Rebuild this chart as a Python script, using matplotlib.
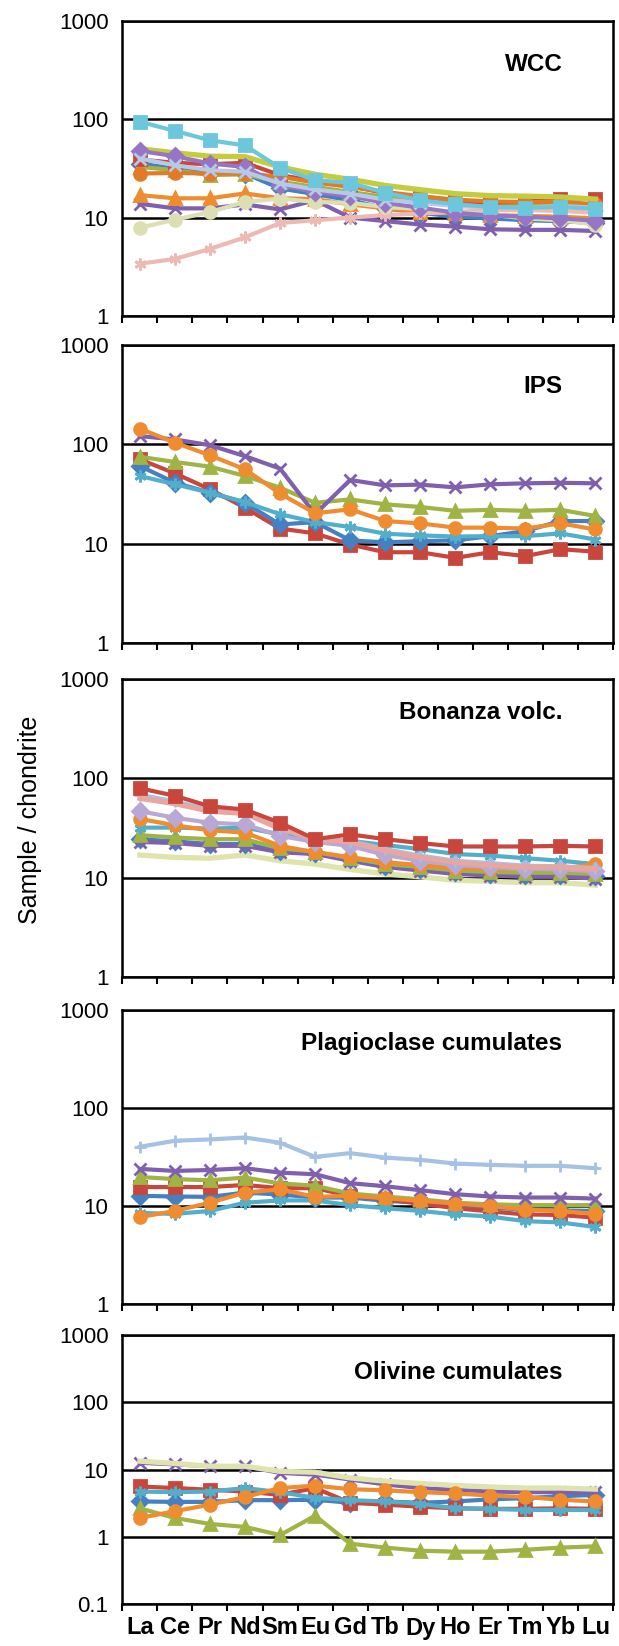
import numpy as np
import matplotlib.pyplot as plt

plt.rcParams['font.family'] = ['Liberation Sans', 'DejaVu Sans']

ree = ['La', 'Ce', 'Pr', 'Nd', 'Sm', 'Eu', 'Gd', 'Tb', 'Dy', 'Ho', 'Er', 'Tm', 'Yb', 'Lu']

# --- WCC ---
wcc_blue = [35.4, 31.5, 29.8, 28, 19.8, 17.3, 15, 12.4, 11.2, 10.2, 9.8, 9.4, 9.2, 8.8]
wcc_green = [32.7, 30.3, 27, 27.5, 23.1, 20.5, 18.2, 16.2, 15, 13.9, 13.3, 13.3, 13.7, 13.7]
wcc_red = [38.9, 36, 34.8, 36, 27, 23.5, 20.8, 17.8, 15.9, 14.6, 14.2, 14.4, 15.6, 15.6]
wcc_dkorange = [28, 28.4, 28, 28, 26, 22.7, 20.5, 18.2, 16.5, 15.2, 14.6, 14.4, 14.4, 13.7]
wcc_purple_x = [13.8, 12.4, 12.4, 13.6, 12.1, 15, 10, 9.2, 8.5, 8.1, 7.6, 7.5, 7.5, 7.3]
wcc_orange_tri = [16.9, 15.7, 15.7, 17.6, 15.7, 15.4, 13.6, 12.4, 11.4, 11, 10.6, 10.4, 10.2, 9.8]
wcc_pink = [3.4, 3.8, 4.8, 6.3, 8.8, 9.4, 10, 10.6, 11, 11.4, 11.9, 11.9, 11.7, 11.2]
wcc_beige = [7.9, 9.5, 11.4, 14.4, 15.6, 14.4, 14.1, 12.8, 12.2, 11.4, 10.7, 9.8, 9.4, 8.5]
wcc_yellowgreen = [50, 45.5, 42, 41.5, 32.7, 27.5, 24.5, 21.2, 19.2, 17.5, 16.7, 16.5, 16.2, 15.4]
wcc_violet = [47.6, 42, 35.4, 32.7, 21.3, 18.2, 16.5, 14.1, 12.6, 11.2, 10.5, 10.2, 9.8, 9.3]
wcc_steel_x = [39.8, 34, 30.3, 29.2, 22.2, 19.3, 17.5, 15.2, 14.1, 13.1, 12.6, 12.6, 13.1, 12.6]
wcc_aqua_sq = [94, 76, 61, 54, 32, 24, 22.5, 17.9, 15, 13.7, 12.8, 12.6, 12.8, 12.3]

# --- IPS ---
ips_red = [70.6, 51, 35.3, 23, 14.2, 12.7, 9.8, 8.2, 8.2, 7.2, 8.2, 7.5, 8.8, 8.3]
ips_blue = [60.5, 41.1, 32.6, 25.8, 15.6, 16.5, 10.8, 10.3, 10.6, 10.8, 11.9, 13.4, 16.9, 16.9]
ips_aqua = [48, 39.6, 32.6, 26.2, 19.8, 16.5, 14.7, 12.6, 12.1, 11.8, 11.9, 11.9, 12.7, 11]
ips_green = [75, 66.4, 59.6, 48, 36.6, 25.8, 27.9, 24.9, 23.4, 21.4, 21.9, 21.4, 21.9, 19]
ips_purple = [121, 112, 98, 76, 57, 19.8, 43.8, 38.6, 39.3, 36.9, 39.6, 40.5, 41, 40.5]
ips_orange = [143.8, 104, 77.5, 56, 32, 20.2, 22.2, 16.9, 16, 14.5, 14.5, 14.2, 16, 13.9]

# --- Bonanza volc. ---
bon_pale = [16.9, 16, 15.7, 16.9, 14.8, 13.7, 12.1, 10.9, 10.2, 9.4, 9.2, 8.9, 8.9, 8.4]
bon_blue = [24.4, 23.2, 21.8, 21.8, 18.6, 17.9, 15.3, 13.2, 12.2, 11.3, 10.9, 10.6, 10.6, 10.3]
bon_purple = [22.9, 22.3, 20.9, 20.9, 18, 17.3, 14.8, 12.8, 11.8, 10.9, 10.5, 10.2, 10.2, 9.8]
bon_green = [26.8, 25.4, 24.4, 24.4, 19.7, 18.3, 15.7, 13.7, 12.8, 11.8, 11.4, 11.2, 11.2, 10.9]
bon_aqua = [31.9, 31.9, 31.2, 31.9, 27.3, 24.4, 23.5, 21.3, 19.4, 17.3, 16.7, 15.7, 14.8, 13.7]
bon_orange = [39.1, 33.6, 30, 28.4, 20.9, 18, 16.1, 14.3, 13.4, 12.5, 12.3, 12.3, 12.3, 13.7]
bon_lavender = [46.7, 40.1, 35.7, 34.4, 26.3, 22.9, 20.9, 16.9, 14.8, 13.4, 12.8, 12.3, 12.1, 11.6]
bon_ltblue = [68.3, 58.6, 48.5, 46.7, 31.9, 24.4, 23.5, 19.4, 16.7, 14.8, 14, 13.2, 13, 12.5]
bon_pink = [63, 55.6, 46.7, 44.3, 31.2, 24.4, 22.9, 18.7, 16, 14.3, 13.4, 12.8, 12.8, 12.1]
bon_red = [79.5, 66.7, 52.3, 48.5, 35.7, 24.4, 27.3, 24.4, 22.3, 20.6, 20.6, 20.6, 20.9, 20.6]

# --- Plagioclase cumulates ---
plg_blue = [12.7, 12.5, 12.4, 13.7, 13.1, 12.2, 12.2, 11.3, 10.8, 10, 9.6, 9.2, 9, 8.9]
plg_red = [15.6, 15.6, 15.6, 16.4, 15.2, 15.2, 12.7, 11.7, 10.6, 9.5, 8.8, 8.2, 8.1, 7.6]
plg_green = [19.8, 18.8, 18.3, 19.5, 17, 16.1, 13.4, 12.5, 11.7, 10.8, 10.4, 10.2, 10.2, 10.2]
plg_purple = [23.9, 22.8, 23.3, 24.3, 21.9, 21.1, 17.1, 15.9, 14.5, 13.2, 12.5, 12.2, 12.2, 11.9]
plg_aqua = [8.5, 8.3, 8.9, 10.8, 11.4, 11.4, 10.2, 9.5, 8.9, 8.2, 7.8, 7, 6.8, 6.1]
plg_orange = [7.7, 8.9, 10.8, 13.7, 14.8, 12.4, 12.7, 12, 11.3, 10.6, 10, 9.2, 8.9, 8.3]
plg_ltblue = [40.2, 46.3, 47.8, 50, 44.2, 31.7, 34.6, 31.2, 29.6, 27.1, 26.3, 25.7, 25.7, 24.3]

# --- Olivine cumulates ---
ol_blue = [3.35, 3.3, 3.3, 3.5, 3.5, 3.55, 3.2, 3.35, 3.2, 3.35, 3.6, 3.75, 4, 4.2]
ol_red = [5.6, 5.3, 5, 4.7, 4.2, 5.3, 3.2, 3, 2.8, 2.65, 2.6, 2.6, 2.65, 2.6]
ol_green = [2.65, 1.9, 1.55, 1.4, 1.06, 2.05, 0.79, 0.69, 0.62, 0.6, 0.6, 0.64, 0.69, 0.72]
ol_purple = [12.6, 11.9, 11.2, 11.2, 8.9, 8.4, 7.1, 6, 5.3, 5, 4.7, 4.6, 4.6, 4.6]
ol_aqua = [4.7, 4.6, 4.7, 5.3, 4.6, 3.8, 3.5, 3.35, 3.1, 2.65, 2.6, 2.5, 2.5, 2.5]
ol_orange = [1.9, 2.4, 3, 3.9, 5.3, 5.75, 5.1, 4.9, 4.6, 4.4, 4.1, 3.9, 3.55, 3.35]
ol_pale = [13.3, 12.3, 11.2, 11.2, 9.4, 9.1, 7.5, 6.7, 6.2, 5.8, 5.5, 5.3, 5.3, 5.1]

# colours / markers (Excel-like)
BLUE, RED, GREEN, PURPLE = '#4580C2', '#C9463D', '#9FB444', '#7F5FAE'
AQUA, ORANGE = '#52AFCB', '#F08C30'
STAR = (6, 2, 0)

panels = [
    ('WCC', 0.85, [1, 1000], [
        (wcc_blue, BLUE, 'D'), (wcc_green, GREEN, '^'), (wcc_red, RED, 's'),
        (wcc_dkorange, '#E27B28', 'o'), (wcc_purple_x, PURPLE, 'x'),
        (wcc_orange_tri, ORANGE, '^'), (wcc_pink, '#EDB9B3', STAR),
        (wcc_beige, '#DCDFB4', 'o'), (wcc_yellowgreen, '#C3CC3E', None),
        (wcc_violet, '#9676C4', 'D'), (wcc_steel_x, '#B6CAE6', 'x'),
        (wcc_aqua_sq, '#6CC6DC', 's')]),
    ('IPS', 0.86, [1, 1000], [
        (ips_red, RED, 's'), (ips_blue, BLUE, 'D'), (ips_aqua, AQUA, STAR),
        (ips_green, GREEN, '^'), (ips_purple, PURPLE, 'x'), (ips_orange, ORANGE, 'o')]),
    ('Bonanza volc.', 0.887, [1, 1000], [
        (bon_pale, '#DFE4AA', None), (bon_blue, BLUE, 'D'), (bon_purple, PURPLE, 'x'),
        (bon_green, GREEN, '^'), (bon_aqua, AQUA, STAR), (bon_orange, ORANGE, 'o'),
        (bon_lavender, '#B9A7D6', 'D'), (bon_ltblue, '#A5C1E3', '+'),
        (bon_pink, '#E9A6A1', None), (bon_red, RED, 's')]),
    ('Plagioclase cumulates', 0.887, [1, 1000], [
        (plg_blue, BLUE, 'D'), (plg_red, RED, 's'), (plg_green, GREEN, '^'),
        (plg_purple, PURPLE, 'x'), (plg_aqua, AQUA, STAR), (plg_orange, ORANGE, 'o'),
        (plg_ltblue, '#A5C1E3', '+')]),
    ('Olivine cumulates', 0.86, [0.1, 1000], [
        (ol_blue, BLUE, 'D'), (ol_red, RED, 's'), (ol_green, GREEN, '^'),
        (ol_purple, PURPLE, 'x'), (ol_pale, '#DFE4AE', None), (ol_aqua, AQUA, STAR),
        (ol_orange, ORANGE, 'o')]),
]

# axes boxes in pixels (top, bottom) of a 619 x 1646 figure
boxes = [(20.7, 316), (345, 643), (679, 977), (1010, 1304), (1335, 1604)]
H = 1646.0
left, right = 122.3 / 619, 613.0 / 619

fig = plt.figure(figsize=(6.19, 16.46), dpi=100)
x = np.arange(len(ree)) + 0.5

for i, ((title, ty, ylim, series), (top, bot)) in enumerate(zip(panels, boxes)):
    ax = fig.add_axes([left, 1 - bot / H, right - left, (bot - top) / H])
    for vals, col, mk in series:
        if mk is None:
            ax.plot(x, vals, color=col, lw=3.8, zorder=3)
        else:
            ax.plot(x, vals, color=col, lw=3.0, marker=mk, ms=8.5, mew=2.0,
                    mec=col, mfc=col, zorder=3)
    ax.set_yscale('log')
    ax.set_ylim(ylim)
    ax.set_xlim(0, len(ree))
    decades = [10.0 ** k for k in range(int(np.log10(ylim[0])), 4)]
    ax.set_yticks(decades, ['%g' % d for d in decades])
    ax.yaxis.set_minor_locator(plt.NullLocator())
    ax.tick_params(axis='y', length=0, pad=10, labelsize=16)
    ax.yaxis.grid(True, color='black', lw=1.8, zorder=1)
    ax.set_axisbelow(True)
    ax.set_xticks(np.arange(len(ree) + 1))
    ax.tick_params(axis='x', which='major', direction='out', length=5, width=1.5,
                   labelbottom=False)
    if i == len(panels) - 1:
        ax.set_xticks(x, ree, minor=True)
        ax.tick_params(axis='x', which='minor', length=0, pad=9, labelsize=17)
        for lab in ax.get_xticklabels(minor=True):
            lab.set_fontweight('bold')
    for sp in ax.spines.values():
        sp.set_linewidth(1.8)
    ax.text(0.897, ty, title, transform=ax.transAxes, ha='right', va='center',
            fontsize=17.5, fontweight='bold')

fig.text(0.048, 0.502, 'Sample / chondrite', rotation=90, ha='center', va='center',
         fontsize=18)

fig.savefig('out.png', dpi=100)
